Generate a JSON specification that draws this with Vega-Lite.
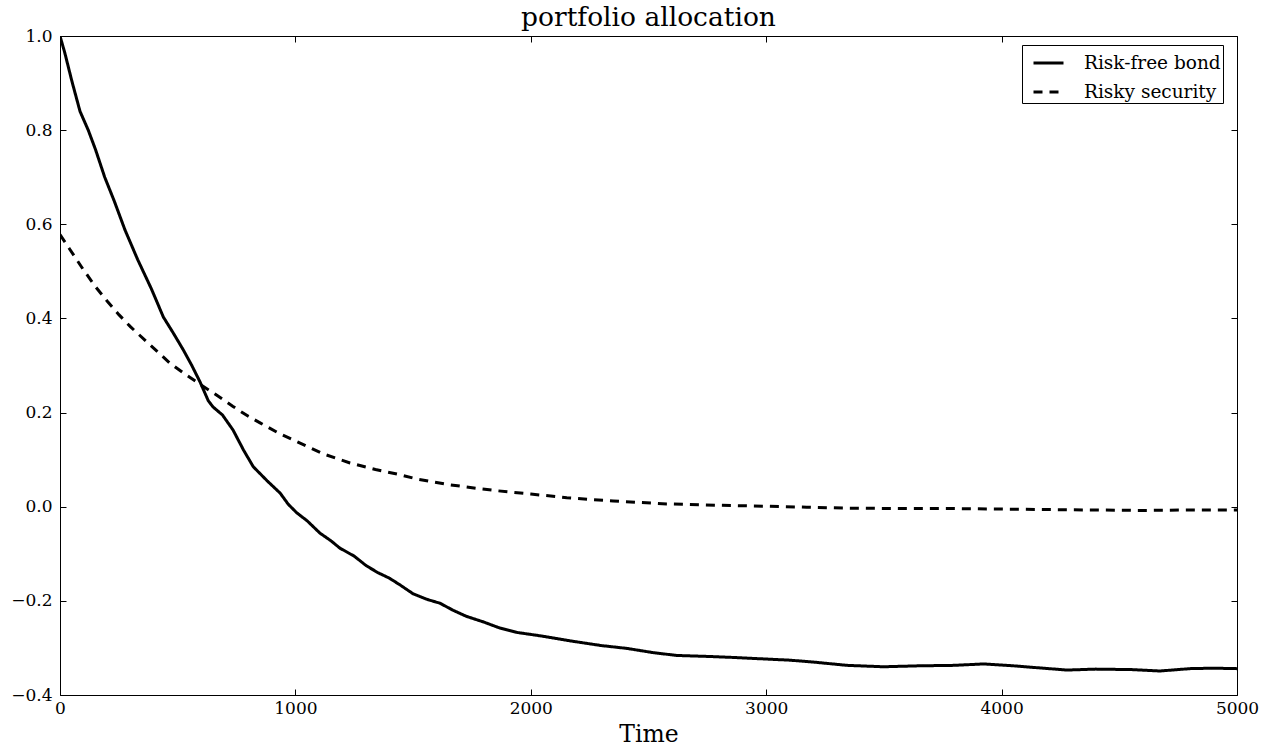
{
  "$schema": "https://vega.github.io/schema/vega-lite/v6.json",
  "width": 1177,
  "height": 659,
  "autosize": {"type": "none"},
  "padding": {"left": 60, "top": 36, "right": 40, "bottom": 56},
  "background": "white",
  "config": {
    "font": "DejaVu Serif",
    "view": {"stroke": "black", "strokeWidth": 1},
    "axis": {"grid": false, "domain": false, "labelFont": "DejaVu Serif", "titleFont": "DejaVu Serif", "labelColor": "black", "titleColor": "black", "tickColor": "black", "labelFontSize": 17, "titleFontSize": 23.5, "titleFontWeight": "normal", "labelFlush": false, "labelOverlap": false, "tickSize": -6, "tickWidth": 1}
  },
  "title": {"text": "portfolio allocation", "font": "DejaVu Serif", "fontSize": 26.5, "fontWeight": "normal", "color": "black", "anchor": "middle", "baseline": "alphabetic", "offset": 7, "dy": 32},
  "data": {"values": [
    {"t": 0, "v": 1.0, "s": "Risk-free bond"},
    {"t": 20, "v": 0.965, "s": "Risk-free bond"},
    {"t": 50, "v": 0.905, "s": "Risk-free bond"},
    {"t": 85, "v": 0.84, "s": "Risk-free bond"},
    {"t": 120, "v": 0.80, "s": "Risk-free bond"},
    {"t": 150, "v": 0.76, "s": "Risk-free bond"},
    {"t": 190, "v": 0.70, "s": "Risk-free bond"},
    {"t": 230, "v": 0.65, "s": "Risk-free bond"},
    {"t": 276, "v": 0.588, "s": "Risk-free bond"},
    {"t": 330, "v": 0.525, "s": "Risk-free bond"},
    {"t": 389, "v": 0.462, "s": "Risk-free bond"},
    {"t": 439, "v": 0.403, "s": "Risk-free bond"},
    {"t": 480, "v": 0.37, "s": "Risk-free bond"},
    {"t": 524, "v": 0.333, "s": "Risk-free bond"},
    {"t": 560, "v": 0.30, "s": "Risk-free bond"},
    {"t": 595, "v": 0.265, "s": "Risk-free bond"},
    {"t": 630, "v": 0.225, "s": "Risk-free bond"},
    {"t": 650, "v": 0.212, "s": "Risk-free bond"},
    {"t": 690, "v": 0.195, "s": "Risk-free bond"},
    {"t": 735, "v": 0.163, "s": "Risk-free bond"},
    {"t": 780, "v": 0.12, "s": "Risk-free bond"},
    {"t": 821, "v": 0.085, "s": "Risk-free bond"},
    {"t": 880, "v": 0.055, "s": "Risk-free bond"},
    {"t": 935, "v": 0.029, "s": "Risk-free bond"},
    {"t": 970, "v": 0.005, "s": "Risk-free bond"},
    {"t": 1006, "v": -0.013, "s": "Risk-free bond"},
    {"t": 1050, "v": -0.03, "s": "Risk-free bond"},
    {"t": 1104, "v": -0.056, "s": "Risk-free bond"},
    {"t": 1150, "v": -0.072, "s": "Risk-free bond"},
    {"t": 1189, "v": -0.088, "s": "Risk-free bond"},
    {"t": 1250, "v": -0.105, "s": "Risk-free bond"},
    {"t": 1300, "v": -0.125, "s": "Risk-free bond"},
    {"t": 1350, "v": -0.14, "s": "Risk-free bond"},
    {"t": 1400, "v": -0.152, "s": "Risk-free bond"},
    {"t": 1444, "v": -0.166, "s": "Risk-free bond"},
    {"t": 1500, "v": -0.185, "s": "Risk-free bond"},
    {"t": 1560, "v": -0.197, "s": "Risk-free bond"},
    {"t": 1614, "v": -0.205, "s": "Risk-free bond"},
    {"t": 1670, "v": -0.22, "s": "Risk-free bond"},
    {"t": 1727, "v": -0.233, "s": "Risk-free bond"},
    {"t": 1800, "v": -0.245, "s": "Risk-free bond"},
    {"t": 1870, "v": -0.258, "s": "Risk-free bond"},
    {"t": 1940, "v": -0.267, "s": "Risk-free bond"},
    {"t": 2050, "v": -0.275, "s": "Risk-free bond"},
    {"t": 2180, "v": -0.286, "s": "Risk-free bond"},
    {"t": 2300, "v": -0.295, "s": "Risk-free bond"},
    {"t": 2408, "v": -0.301, "s": "Risk-free bond"},
    {"t": 2520, "v": -0.31, "s": "Risk-free bond"},
    {"t": 2620, "v": -0.316, "s": "Risk-free bond"},
    {"t": 2750, "v": -0.318, "s": "Risk-free bond"},
    {"t": 2850, "v": -0.32, "s": "Risk-free bond"},
    {"t": 2974, "v": -0.323, "s": "Risk-free bond"},
    {"t": 3100, "v": -0.326, "s": "Risk-free bond"},
    {"t": 3200, "v": -0.33, "s": "Risk-free bond"},
    {"t": 3343, "v": -0.337, "s": "Risk-free bond"},
    {"t": 3497, "v": -0.34, "s": "Risk-free bond"},
    {"t": 3650, "v": -0.338, "s": "Risk-free bond"},
    {"t": 3800, "v": -0.337, "s": "Risk-free bond"},
    {"t": 3922, "v": -0.334, "s": "Risk-free bond"},
    {"t": 4050, "v": -0.338, "s": "Risk-free bond"},
    {"t": 4150, "v": -0.342, "s": "Risk-free bond"},
    {"t": 4278, "v": -0.347, "s": "Risk-free bond"},
    {"t": 4400, "v": -0.345, "s": "Risk-free bond"},
    {"t": 4550, "v": -0.346, "s": "Risk-free bond"},
    {"t": 4673, "v": -0.349, "s": "Risk-free bond"},
    {"t": 4800, "v": -0.344, "s": "Risk-free bond"},
    {"t": 4900, "v": -0.343, "s": "Risk-free bond"},
    {"t": 5000, "v": -0.344, "s": "Risk-free bond"},
    {"t": 0, "v": 0.578, "s": "Risky security"},
    {"t": 40, "v": 0.548, "s": "Risky security"},
    {"t": 100, "v": 0.503, "s": "Risky security"},
    {"t": 150, "v": 0.468, "s": "Risky security"},
    {"t": 200, "v": 0.437, "s": "Risky security"},
    {"t": 250, "v": 0.408, "s": "Risky security"},
    {"t": 300, "v": 0.382, "s": "Risky security"},
    {"t": 382, "v": 0.344, "s": "Risky security"},
    {"t": 467, "v": 0.305, "s": "Risky security"},
    {"t": 530, "v": 0.282, "s": "Risky security"},
    {"t": 595, "v": 0.26, "s": "Risky security"},
    {"t": 660, "v": 0.239, "s": "Risky security"},
    {"t": 735, "v": 0.213, "s": "Risky security"},
    {"t": 800, "v": 0.192, "s": "Risky security"},
    {"t": 850, "v": 0.178, "s": "Risky security"},
    {"t": 930, "v": 0.156, "s": "Risky security"},
    {"t": 1020, "v": 0.135, "s": "Risky security"},
    {"t": 1120, "v": 0.112, "s": "Risky security"},
    {"t": 1232, "v": 0.093, "s": "Risky security"},
    {"t": 1340, "v": 0.079, "s": "Risky security"},
    {"t": 1444, "v": 0.068, "s": "Risky security"},
    {"t": 1515, "v": 0.059, "s": "Risky security"},
    {"t": 1650, "v": 0.047, "s": "Risky security"},
    {"t": 1770, "v": 0.039, "s": "Risky security"},
    {"t": 1855, "v": 0.034, "s": "Risky security"},
    {"t": 2000, "v": 0.027, "s": "Risky security"},
    {"t": 2153, "v": 0.019, "s": "Risky security"},
    {"t": 2350, "v": 0.012, "s": "Risky security"},
    {"t": 2578, "v": 0.006, "s": "Risky security"},
    {"t": 2800, "v": 0.003, "s": "Risky security"},
    {"t": 3003, "v": 0.001, "s": "Risky security"},
    {"t": 3172, "v": -0.001, "s": "Risky security"},
    {"t": 3343, "v": -0.003, "s": "Risky security"},
    {"t": 3600, "v": -0.004, "s": "Risky security"},
    {"t": 3800, "v": -0.004, "s": "Risky security"},
    {"t": 3993, "v": -0.005, "s": "Risky security"},
    {"t": 4200, "v": -0.006, "s": "Risky security"},
    {"t": 4400, "v": -0.007, "s": "Risky security"},
    {"t": 4600, "v": -0.008, "s": "Risky security"},
    {"t": 4800, "v": -0.007, "s": "Risky security"},
    {"t": 5000, "v": -0.007, "s": "Risky security"}
  ]},
  "layer": [
    {
      "mark": {"type": "line", "color": "black", "strokeWidth": 3, "strokeCap": "butt", "clip": true},
      "encoding": {
        "x": {"field": "t", "type": "quantitative", "scale": {"domain": [0, 5000], "nice": false, "zero": false}, "axis": {"orient": "bottom", "values": [0, 1000, 2000, 3000, 4000, 5000], "format": "d", "title": "Time", "labelPadding": 11, "titlePadding": 6}},
        "y": {"field": "v", "type": "quantitative", "scale": {"domain": [-0.4, 1.0], "nice": false, "zero": false}, "axis": {"orient": "left", "values": [-0.4, -0.2, 0, 0.2, 0.4, 0.6, 0.8, 1.0], "format": ".1f", "title": null, "labelPadding": 14}},
        "strokeDash": {"field": "s", "type": "nominal", "scale": {"domain": ["Risk-free bond", "Risky security"], "range": [[1, 0], [9, 7]]},
          "legend": {"title": null, "orient": "none", "legendX": 962, "legendY": 9, "symbolType": "stroke", "symbolSize": 900, "symbolStrokeWidth": 3, "symbolStrokeColor": "black", "symbolOffset": 8.5, "labelFont": "DejaVu Serif", "labelFontSize": 18.5, "labelColor": "black", "labelOffset": 19, "strokeColor": "black", "fillColor": "white", "padding": 1.5, "rowPadding": 3, "cornerRadius": 0, "labelLimit": 300}}
      }
    },
    {
      "mark": {"type": "line", "opacity": 0},
      "encoding": {
        "x": {"field": "t", "type": "quantitative", "axis": {"orient": "top", "values": [0, 1000, 2000, 3000, 4000, 5000], "labels": false, "title": null, "minExtent": 0, "maxExtent": 0}},
        "y": {"field": "v", "type": "quantitative", "axis": {"orient": "right", "values": [-0.4, -0.2, 0, 0.2, 0.4, 0.6, 0.8, 1.0], "labels": false, "title": null, "minExtent": 0, "maxExtent": 0}},
        "detail": {"field": "s"}
      }
    }
  ],
  "resolve": {"axis": {"x": "independent", "y": "independent"}}
}
